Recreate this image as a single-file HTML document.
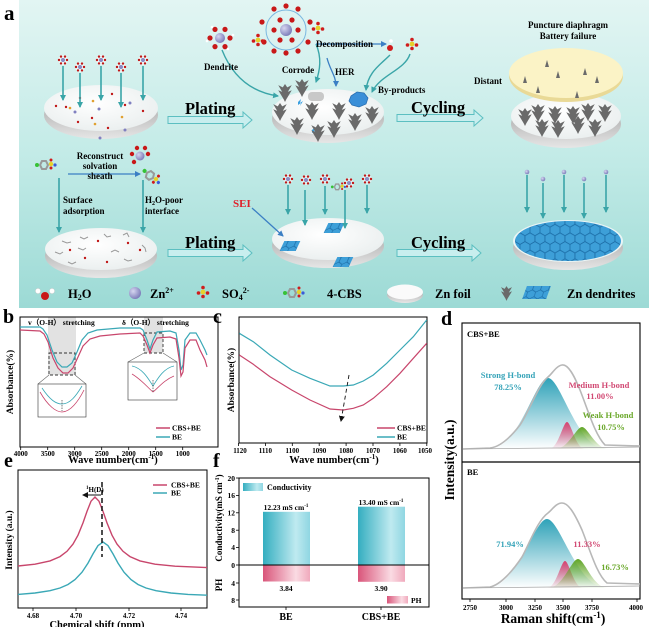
<!DOCTYPE html>
<html><head><meta charset="utf-8"><style>
html,body{margin:0;padding:0;background:#fff;}
svg{display:block;font-family:"Liberation Serif",serif;font-weight:bold;}
</style></head><body>
<svg width="650" height="627" viewBox="0 0 650 627" xmlns="http://www.w3.org/2000/svg">
<defs>
<linearGradient id="bg" x1="0" y1="0" x2="0" y2="1">
<stop offset="0" stop-color="#e2f5f3"/><stop offset="0.5" stop-color="#c3ebe7"/><stop offset="1" stop-color="#9cdad5"/></linearGradient>
<linearGradient id="edge" x1="0" y1="0" x2="0" y2="1"><stop offset="0" stop-color="#9a9a9a"/><stop offset="1" stop-color="#e6e6e6"/></linearGradient>
<radialGradient id="disc" cx="0.45" cy="0.4" r="0.7"><stop offset="0" stop-color="#ffffff"/><stop offset="1" stop-color="#e8eded"/></radialGradient>
<radialGradient id="zn" cx="0.35" cy="0.35" r="0.7"><stop offset="0" stop-color="#d6d6f0"/><stop offset="1" stop-color="#7a7ab8"/></radialGradient>
<pattern id="hex" width="8" height="13.8" patternUnits="userSpaceOnUse" patternTransform="scale(1.25)">
<g fill="#3d9fd8" stroke="#1b6ca6" stroke-width="0.6">
<polygon points="4,0 8,2.3 8,6.9 4,9.2 0,6.9 0,2.3"/>
<polygon points="0,6.9 4,9.2 4,13.8 0,16.1 -4,13.8 -4,9.2"/>
<polygon points="8,6.9 12,9.2 12,13.8 8,16.1 4,13.8 4,9.2"/>
<polygon points="0,-6.9 4,-4.6 4,0 0,2.3 -4,0 -4,-4.6"/>
<polygon points="8,-6.9 12,-4.6 12,0 8,2.3 4,0 4,-4.6"/>
</g></pattern>
<pattern id="hexs" width="8" height="13.8" patternUnits="userSpaceOnUse">
<g fill="#3d9fd8" stroke="#1b6ca6" stroke-width="0.6">
<polygon points="4,0 8,2.3 8,6.9 4,9.2 0,6.9 0,2.3"/>
<polygon points="0,6.9 4,9.2 4,13.8 0,16.1 -4,13.8 -4,9.2"/>
<polygon points="8,6.9 12,9.2 12,13.8 8,16.1 4,13.8 4,9.2"/>
<polygon points="0,-6.9 4,-4.6 4,0 0,2.3 -4,0 -4,-4.6"/>
<polygon points="8,-6.9 12,-4.6 12,0 8,2.3 4,0 4,-4.6"/>
</g></pattern>
<linearGradient id="gb" x1="0" y1="0" x2="0" y2="1"><stop offset="0" stop-color="#2fa2b8"/><stop offset="1" stop-color="#2fa2b8" stop-opacity="0"/></linearGradient>
<linearGradient id="gr" x1="0" y1="0" x2="0" y2="1"><stop offset="0" stop-color="#d8426f"/><stop offset="1" stop-color="#d8426f" stop-opacity="0.05"/></linearGradient>
<linearGradient id="gg" x1="0" y1="0" x2="0" y2="1"><stop offset="0" stop-color="#5fa524"/><stop offset="1" stop-color="#5fa524" stop-opacity="0.05"/></linearGradient>
<linearGradient id="cb" x1="0" y1="0" x2="1" y2="0"><stop offset="0" stop-color="#34aec0"/><stop offset="0.7" stop-color="#bfeaf0"/><stop offset="1" stop-color="#8fd6e2"/></linearGradient>
<linearGradient id="pb" x1="0" y1="0" x2="1" y2="0"><stop offset="0" stop-color="#d9557a"/><stop offset="0.7" stop-color="#fadbe3"/><stop offset="1" stop-color="#f0a9bc"/></linearGradient>
<marker id="ah" markerWidth="6" markerHeight="6" refX="5" refY="3" orient="auto" markerUnits="userSpaceOnUse"><path d="M0,0 L6,3 L0,6 Z" fill="#3aa5a8"/></marker>
<marker id="ahb" markerWidth="6" markerHeight="6" refX="5" refY="3" orient="auto" markerUnits="userSpaceOnUse"><path d="M0,0 L6,3 L0,6 Z" fill="#3b7fc4"/></marker>
<marker id="ahk" markerWidth="6" markerHeight="6" refX="5" refY="3" orient="auto" markerUnits="userSpaceOnUse"><path d="M0,0 L6,3 L0,6 Z" fill="#111"/></marker>
<symbol id="dd" viewBox="-6 0 12 16" overflow="visible"><path d="M0,0 L-2,3 L-6,1 L-2.5,7 L-6,5.5 L-1.2,13.5 L0,16 L1.2,13.5 L6,5.5 L2.5,7 L6,1 L2,3 Z" fill="#6a6a6a"/></symbol>
<g id="cl"><circle r="5" fill="#fff" fill-opacity="0.5"/><circle r="2" fill="#8a8ac4"/><g fill="#c01818"><circle cx="4" cy="0" r="1.2"/><circle cx="-4" cy="0" r="1.2"/><circle cx="2" cy="3.4" r="1.2"/><circle cx="-2" cy="3.4" r="1.2"/><circle cx="2" cy="-3.4" r="1.2"/><circle cx="-2" cy="-3.4" r="1.2"/></g></g>
<g id="so4"><circle r="2.4" fill="#e6d22a"/><g fill="#d01c1c"><circle cx="0" cy="-4.5" r="1.8"/><circle cx="4.5" cy="1" r="1.8"/><circle cx="-4.5" cy="1" r="1.8"/><circle cx="0" cy="4.5" r="1.8"/></g></g>
<g id="cbs"><circle cx="-11" cy="0" r="2" fill="#36c236"/><polygon points="-6,-4 -2,-4 0,0 -2,4 -6,4 -8,0" fill="none" stroke="#999" stroke-width="2"/><circle cx="3" cy="-1" r="2.2" fill="#e6d22a"/><circle cx="3" cy="-5" r="1.5" fill="#d01c1c"/><circle cx="3" cy="3" r="1.5" fill="#d01c1c"/><circle cx="7" cy="0" r="1.6" fill="#3a5ad8"/></g>
<g id="patch"><rect x="-8" y="-5" width="16" height="10" fill="url(#hexs)" transform="skewX(-25)"/></g>
</defs>

<!-- ===== Panel a ===== -->
<rect x="19" y="0" width="630" height="308" fill="url(#bg)"/>
<text x="4" y="20" font-size="21">a</text>

<!-- top-left disc -->
<ellipse cx="101" cy="115" rx="57" ry="24" fill="url(#edge)"/>
<ellipse cx="101" cy="108" rx="57" ry="23" fill="url(#disc)"/>
<g fill="#c01818"><circle cx="80" cy="98" r="1.2"/><circle cx="112" cy="94" r="1.2"/><circle cx="66" cy="107" r="1.2"/><circle cx="92" cy="118" r="1.2"/><circle cx="125" cy="105" r="1.2"/><circle cx="143" cy="111" r="1.2"/><circle cx="78" cy="122" r="1.2"/><circle cx="108" cy="128" r="1.2"/><circle cx="56" cy="106" r="1.2"/></g>
<g fill="#8080c0"><circle cx="99" cy="109" r="1.5"/><circle cx="130" cy="103" r="1.5"/><circle cx="75" cy="112" r="1.5"/><circle cx="100" cy="138" r="1.5"/><circle cx="125" cy="130" r="1.5"/></g>
<g fill="#e0a030"><circle cx="70" cy="108" r="1.3"/><circle cx="93" cy="101" r="1.3"/><circle cx="95" cy="124" r="1.3"/><circle cx="122" cy="117" r="1.3"/></g>
<g stroke="#3aa5a8" stroke-width="1.6" marker-end="url(#ah)">
<line x1="63" y1="66" x2="63" y2="100"/><line x1="80" y1="73" x2="80" y2="107"/><line x1="101" y1="66" x2="101" y2="100"/><line x1="121" y1="73" x2="121" y2="107"/><line x1="143" y1="66" x2="143" y2="100"/></g>
<use href="#cl" x="63" y="60"/><use href="#cl" x="80" y="67"/><use href="#cl" x="101" y="60"/><use href="#cl" x="121" y="67"/><use href="#cl" x="143" y="60"/>

<!-- big arrows -->
<g fill="#c8eeee" stroke="#5cbfc1" stroke-width="1">
<path d="M168,116.5 L243,116.5 L243,112 L252,120 L243,128 L243,123.5 L168,123.5 Z"/>
<path d="M397,114.5 L474,114.5 L474,110 L483,118 L474,126 L474,121.5 L397,121.5 Z"/>
<path d="M168,249.5 L243,249.5 L243,245 L252,253 L243,261 L243,256.5 L168,256.5 Z"/>
<path d="M397,249.5 L472,249.5 L472,245 L481,253 L472,261 L472,256.5 L397,256.5 Z"/>
</g>
<text x="185" y="114" font-size="16.5">Plating</text>
<text x="411" y="113" font-size="16.5">Cycling</text>
<text x="185" y="248" font-size="16.5">Plating</text>
<text x="411" y="248" font-size="16.5">Cycling</text>

<!-- top-middle disc -->
<ellipse cx="328" cy="119" rx="56" ry="24" fill="url(#edge)"/>
<ellipse cx="328" cy="112" rx="56" ry="23" fill="url(#disc)"/>
<rect x="308" y="92" width="16" height="9" rx="4" fill="#c8c8c8"/>
<path d="M351,96 l6,-4 l7,1 l4,5 l-2,6 l-7,3 l-7,-2 l-3,-4 Z" fill="#3a8fd8" stroke="#2a6fb0" stroke-width="0.8"/>
<g fill="#3aa0e0"><path d="M298,102 l3,-3 l-1,4 l3,-2 l-3,5 l1,-3 l-3,2 Z"/><path d="M336,110 l3,-3 l-1,4 l3,-2 l-3,5 l1,-3 l-3,2 Z"/><path d="M312,130 l3,-3 l-1,4 l3,-2 l-3,5 l1,-3 l-3,2 Z"/></g>
<g>
<use href="#dd" x="278" y="84" width="14" height="18"/><use href="#dd" x="295" y="79" width="14" height="18"/>
<use href="#dd" x="273" y="103" width="14" height="18"/><use href="#dd" x="305" y="102" width="14" height="18"/>
<use href="#dd" x="290" y="117" width="14" height="18"/><use href="#dd" x="332" y="102" width="14" height="18"/>
<use href="#dd" x="348" y="113" width="14" height="18"/><use href="#dd" x="327" y="120" width="14" height="18"/>
<use href="#dd" x="311" y="124" width="14" height="18"/><use href="#dd" x="365" y="106" width="14" height="18"/>
</g>
<!-- sheath and molecules -->
<g transform="translate(220,38)"><circle r="5" fill="url(#zn)"/><g fill="#c81818"><circle cx="10" cy="0" r="2.6"/><circle cx="-10" cy="0" r="2.6"/><circle cx="5" cy="8.6" r="2.6"/><circle cx="-5" cy="8.6" r="2.6"/><circle cx="5" cy="-8.6" r="2.6"/><circle cx="-5" cy="-8.6" r="2.6"/></g><g fill="#fff"><circle cx="13" cy="-3" r="1.3"/><circle cx="-13" cy="3" r="1.3"/><circle cx="8" cy="11" r="1.3"/><circle cx="-8" cy="-11" r="1.3"/></g></g>
<g transform="translate(286,30)"><circle r="20" fill="none" stroke="#7ab8e0" stroke-width="1"/><circle r="6" fill="url(#zn)"/>
<g fill="#c81818"><circle cx="12" cy="0" r="2.6"/><circle cx="-12" cy="0" r="2.6"/><circle cx="6" cy="10" r="2.6"/><circle cx="-6" cy="10" r="2.6"/><circle cx="6" cy="-10" r="2.6"/><circle cx="-6" cy="-10" r="2.6"/>
<circle cx="24" cy="-8" r="2.6"/><circle cx="-24" cy="-8" r="2.6"/><circle cx="22" cy="12" r="2.6"/><circle cx="-22" cy="12" r="2.6"/><circle cx="0" cy="-24" r="2.6"/><circle cx="12" cy="-21" r="2.6"/><circle cx="-12" cy="-21" r="2.6"/><circle cx="0" cy="23" r="2.6"/><circle cx="12" cy="21" r="2.6"/><circle cx="-12" cy="21" r="2.6"/></g></g>
<use href="#so4" x="258" y="40"/><use href="#so4" x="318" y="28"/><use href="#so4" x="412" y="44"/>
<circle cx="390" cy="48" r="3" fill="#d01c1c"/><circle cx="391" cy="41" r="1.8" fill="#fff"/>
<g fill="none" stroke="#3aa5a8" stroke-width="1.4" marker-end="url(#ah)">
<path d="M222,50 C232,75 250,92 278,96"/>
<path d="M316,44 C322,58 320,70 316,82"/>
<path d="M390,55 C380,65 368,72 366,90"/>
<path d="M410,54 C405,70 380,75 372,92"/>
</g>
<g fill="none" stroke="#3b7fc4" stroke-width="1.3">
<line x1="316" y1="44" x2="386" y2="44" marker-end="url(#ahb)"/>
<path d="M327,58 C330,70 336,76 336,86" marker-end="url(#ahb)"/>
</g>
<text x="221" y="70" font-size="9" text-anchor="middle">Dendrite</text>
<text x="298" y="73" font-size="9" text-anchor="middle">Corrode</text>
<text x="316" y="47" font-size="9">Decomposition</text>
<text x="335" y="75" font-size="9">HER</text>
<text x="378" y="93" font-size="9">By-products</text>

<!-- top-right discs -->
<ellipse cx="566" cy="124" rx="55" ry="24" fill="url(#edge)"/>
<ellipse cx="566" cy="116" rx="55" ry="23" fill="url(#disc)"/>
<g>
<use href="#dd" x="518" y="108" width="14" height="18"/><use href="#dd" x="531" y="104" width="14" height="18"/>
<use href="#dd" x="548" y="106" width="14" height="18"/><use href="#dd" x="566" y="106" width="14" height="18"/>
<use href="#dd" x="581" y="103" width="14" height="18"/><use href="#dd" x="598" y="104" width="14" height="18"/>
<use href="#dd" x="535" y="119" width="14" height="18"/><use href="#dd" x="551" y="120" width="14" height="18"/>
<use href="#dd" x="571" y="116" width="14" height="18"/><use href="#dd" x="588" y="119" width="14" height="18"/>
</g>
<ellipse cx="566" cy="76" rx="57" ry="26" fill="#e9d996"/>
<ellipse cx="566" cy="73" rx="57" ry="25" fill="#fbf3c6"/>
<g fill="#6a6a6a"><path d="M547,60 l2,7 l-4,0 Z"/><path d="M525,76 l2,7 l-4,0 Z"/><path d="M558,71 l2,7 l-4,0 Z"/><path d="M538,86 l2,7 l-4,0 Z"/><path d="M585,68 l2,7 l-4,0 Z"/><path d="M597,76 l2,7 l-4,0 Z"/><path d="M577,91 l2,7 l-4,0 Z"/></g>
<text x="568" y="28" font-size="9" text-anchor="middle">Puncture diaphragm</text>
<text x="568" y="39" font-size="9" text-anchor="middle">Battery failure</text>
<text x="474" y="84" font-size="9">Distant</text>

<!-- bottom-left -->
<ellipse cx="101" cy="256" rx="56" ry="22" fill="url(#edge)"/>
<ellipse cx="101" cy="249" rx="56" ry="21" fill="url(#disc)"/>
<g fill="#c01818"><circle cx="70" cy="250" r="1.2"/><circle cx="98" cy="241" r="1.2"/><circle cx="128" cy="243" r="1.2"/><circle cx="107" cy="262" r="1.2"/><circle cx="85" cy="258" r="1.2"/><circle cx="140" cy="250" r="1.2"/></g>
<g stroke="#999" stroke-width="1" fill="none"><path d="M62,241 l5,2 l4,-1"/><path d="M80,237 l4,2 l4,-2"/><path d="M104,234 l3,3 l4,-1"/><path d="M123,235 l4,-2 l2,4"/><path d="M55,252 l5,2 l3,-2"/><path d="M78,248 l5,2 l3,-2"/><path d="M111,252 l4,-2 l4,2"/><path d="M124,259 l4,2 l4,-1"/><path d="M68,262 l4,2 l4,-2"/><path d="M142,245 l3,3 l1,4"/></g>
<use href="#cbs" x="48" y="165"/>
<g transform="translate(140,156)"><circle r="4.5" fill="url(#zn)"/><g fill="#c81818"><circle cx="8" cy="-2" r="2.2"/><circle cx="-8" cy="-2" r="2.2"/><circle cx="-3" cy="-8" r="2.2"/><circle cx="5" cy="-8" r="2.2"/><circle cx="-6" cy="6" r="2.2"/></g></g>
<use href="#cbs" x="153" y="178" transform="rotate(40 153 178)"/>
<line x1="68" y1="174" x2="140" y2="174" stroke="#3b7fc4" stroke-width="1.3" marker-end="url(#ahb)"/>
<g stroke="#3aa5a8" stroke-width="1.6" marker-end="url(#ah)">
<line x1="59" y1="178" x2="59" y2="232"/><line x1="143" y1="180" x2="143" y2="232"/></g>
<text x="100" y="159" font-size="9" text-anchor="middle">Reconstruct</text>
<text x="100" y="169" font-size="9" text-anchor="middle">solvation</text>
<text x="100" y="179" font-size="9" text-anchor="middle">sheath</text>
<text x="63" y="203" font-size="9">Surface</text>
<text x="63" y="214" font-size="9">adsorption</text>
<text x="145" y="203" font-size="9">H<tspan font-size="6" dy="2">2</tspan><tspan dy="-2">O-poor</tspan></text>
<text x="145" y="214" font-size="9">interface</text>

<!-- bottom-middle -->
<ellipse cx="328" cy="246" rx="56" ry="22" fill="url(#edge)"/>
<ellipse cx="328" cy="239" rx="56" ry="21" fill="url(#disc)"/>
<use href="#patch" x="290" y="246"/><use href="#patch" x="334" y="228"/><use href="#patch" x="343" y="262"/>
<text x="233" y="207" font-size="11" fill="#e0202a">SEI</text>
<line x1="252" y1="208" x2="283" y2="236" stroke="#3b7fc4" stroke-width="1.3" marker-end="url(#ahb)"/>
<g stroke="#3aa5a8" stroke-width="1.6" marker-end="url(#ah)">
<line x1="288" y1="185" x2="288" y2="214"/><line x1="305" y1="190" x2="305" y2="225"/><line x1="325" y1="186" x2="325" y2="214"/><line x1="345" y1="190" x2="345" y2="228"/><line x1="367" y1="185" x2="367" y2="213"/></g>
<use href="#cl" x="288" y="179"/><use href="#cl" x="306" y="180"/><use href="#cl" x="325" y="179"/><use href="#cl" x="349" y="183"/><use href="#cl" x="367" y="179"/>
<use href="#cbs" x="340" y="187" transform="scale(0.7) translate(145.7 80)"/>

<!-- bottom-right hex disc -->
<ellipse cx="568" cy="248" rx="55" ry="22" fill="url(#edge)"/>
<ellipse cx="568" cy="241" rx="55" ry="21" fill="#eaf5f5"/>
<ellipse cx="568" cy="241" rx="53" ry="20" fill="url(#hex)"/>
<g stroke="#3aa5a8" stroke-width="1.6" marker-end="url(#ah)">
<line x1="527" y1="175" x2="527" y2="212"/><line x1="543" y1="183" x2="543" y2="218"/><line x1="564" y1="175" x2="564" y2="212"/><line x1="584" y1="183" x2="584" y2="218"/><line x1="606" y1="175" x2="606" y2="212"/></g>
<g fill="url(#zn)"><circle cx="527" cy="172" r="2.3"/><circle cx="543" cy="179" r="2.3"/><circle cx="564" cy="172" r="2.3"/><circle cx="584" cy="179" r="2.3"/><circle cx="606" cy="172" r="2.3"/></g>

<!-- legend row -->
<circle cx="45" cy="296" r="4" fill="#c81818"/><circle cx="38" cy="291" r="2.6" fill="#fff" stroke="#ccc" stroke-width="0.5"/><circle cx="52" cy="291" r="2.6" fill="#fff" stroke="#ccc" stroke-width="0.5"/>
<text x="68" y="298" font-size="12.5">H<tspan font-size="8" dy="2">2</tspan><tspan dy="-2">O</tspan></text>
<circle cx="135" cy="293" r="6" fill="url(#zn)"/>
<text x="150" y="298" font-size="12.5">Zn<tspan font-size="8" dy="-5">2+</tspan></text>
<use href="#so4" x="203" y="292"/>
<text x="222" y="298" font-size="12.5">SO<tspan font-size="8" dy="2">4</tspan><tspan font-size="8" dy="-7">2-</tspan></text>
<use href="#cbs" x="296" y="293"/>
<text x="327" y="298" font-size="12.5">4-CBS</text>
<ellipse cx="405" cy="295" rx="18" ry="8" fill="url(#edge)"/><ellipse cx="405" cy="292" rx="18" ry="7.5" fill="#fafafa"/>
<text x="435" y="298" font-size="12.5">Zn foil</text>
<use href="#dd" x="501" y="286" width="11" height="15"/>
<rect x="525" y="286" width="24" height="13" fill="url(#hexs)" transform="skewX(-20) translate(106 0)"/>
<text x="567" y="298" font-size="12.5">Zn dendrites</text>

<!-- ===== Panel b ===== -->
<text x="3" y="323" font-size="20">b</text>
<rect x="48" y="317" width="28" height="58" fill="#e2e2e2"/>
<rect x="144" y="317" width="19" height="36" fill="#e2e2e2"/>
<rect x="20" y="317" width="198" height="130" fill="none" stroke="#000" stroke-width="1"/>
<g fill="none" stroke-dasharray="3,2" stroke="#333" stroke-width="0.9">
<rect x="49" y="353" width="26" height="22"/><rect x="144" y="333" width="19" height="20"/></g>
<g stroke="#666" stroke-width="0.6"><line x1="49" y1="375" x2="38" y2="384"/><line x1="75" y1="375" x2="86" y2="384"/><line x1="144" y1="353" x2="128" y2="362"/><line x1="163" y1="353" x2="177" y2="362"/></g>
<polyline fill="none" stroke="#3aa8b6" stroke-width="1.2" points="20,327 40,327 43,329 47,335 52,350 57,362 62,367 67,367 72,363 77,352 82,340 88,333 97,330 120,328 140,328 143,330 147,340 150,349 153,340 157,332 170,331 176,333 179,350 181,370 183,365 185,340 190,333 196,333 200,340 205,350 207,355"/>
<polyline fill="none" stroke="#c8466c" stroke-width="1.2" points="20,330 40,331 44,334 48,342 53,358 58,368 63,373 68,373 73,368 78,357 83,346 90,339 100,336 120,334 140,333 143,336 147,345 150,353 153,345 157,338 170,337 176,339 179,358 181,376 183,372 185,348 190,340 196,340 200,350 205,360 207,367"/>
<rect x="38" y="384" width="48" height="33" fill="#fff" stroke="#333" stroke-width="0.6"/>
<path d="M42,388 C50,400 56,404 62,404 C70,404 76,396 82,386" fill="none" stroke="#3aa8b6" stroke-width="0.8"/>
<path d="M40,392 C48,406 56,412 62,412 C70,412 78,402 84,390" fill="none" stroke="#c8466c" stroke-width="0.8"/>
<line x1="62" y1="400" x2="62" y2="411" stroke="#222" stroke-width="0.6" stroke-dasharray="1.5,1"/>
<rect x="128" y="362" width="49" height="38" fill="#fff" stroke="#333" stroke-width="0.6"/>
<path d="M132,366 C142,368 148,378 153,386 C158,378 164,368 174,366" fill="none" stroke="#3aa8b6" stroke-width="0.8"/>
<path d="M132,374 C142,380 148,388 153,392 C158,388 164,380 174,376" fill="none" stroke="#c8466c" stroke-width="0.8"/>
<line x1="153" y1="380" x2="153" y2="392" stroke="#222" stroke-width="0.6" stroke-dasharray="1.5,1"/>
<text x="28" y="325" font-size="7.5">v（O-H） stretching</text>
<text x="122" y="325" font-size="7.5">δ（O-H） stretching</text>
<line x1="156" y1="428" x2="170" y2="428" stroke="#c8466c" stroke-width="1.5"/><text x="172" y="430.5" font-size="7.5">CBS+BE</text>
<line x1="156" y1="437" x2="170" y2="437" stroke="#3aa8b6" stroke-width="1.5"/><text x="172" y="439.5" font-size="7.5">BE</text>
<g stroke="#000" stroke-width="0.8"><line x1="20.7" y1="447" x2="20.7" y2="450"/><line x1="47.7" y1="447" x2="47.7" y2="450"/><line x1="74.7" y1="447" x2="74.7" y2="450"/><line x1="101.7" y1="447" x2="101.7" y2="450"/><line x1="128.7" y1="447" x2="128.7" y2="450"/><line x1="155.7" y1="447" x2="155.7" y2="450"/><line x1="182.7" y1="447" x2="182.7" y2="450"/></g>
<g font-size="7" text-anchor="middle"><text x="20.7" y="456">4000</text><text x="47.7" y="456">3500</text><text x="74.7" y="456">3000</text><text x="101.7" y="456">2500</text><text x="128.7" y="456">2000</text><text x="155.7" y="456">1500</text><text x="182.7" y="456">1000</text></g>
<text x="113" y="463" font-size="10.5" text-anchor="middle">Wave number(cm<tspan font-size="7" dy="-4">-1</tspan><tspan dy="4">)</tspan></text>
<text transform="translate(13,382) rotate(-90)" font-size="9.5" text-anchor="middle">Absorbance(%)</text>

<!-- ===== Panel c ===== -->
<text x="213" y="323" font-size="20">c</text>
<rect x="239" y="317" width="188" height="126" fill="none" stroke="#000" stroke-width="1"/>
<polyline fill="none" stroke="#3aa8b6" stroke-width="1.2" points="239.3,333.3 253.3,341.7 270,355 291.7,370 310,378.3 330,386 343.3,386 353.3,385 363.3,381 373.3,375 386.7,363.3 400,350 413.3,336.7 426.7,320"/>
<polyline fill="none" stroke="#c8466c" stroke-width="1.2" points="239.3,355 253.3,364.3 270,376.7 291.7,390 310,400 330,409 343.3,410 353.3,408.3 363.3,405 373.3,398.3 386.7,386.7 400,373.3 413.3,358.3 426.7,343.3"/>
<line x1="349" y1="375" x2="341" y2="421" stroke="#111" stroke-width="0.9" stroke-dasharray="4,3" marker-end="url(#ahk)"/>
<line x1="377" y1="428" x2="395" y2="428" stroke="#c8466c" stroke-width="1.5"/><text x="397" y="430.5" font-size="7.5">CBS+BE</text>
<line x1="377" y1="437" x2="395" y2="437" stroke="#3aa8b6" stroke-width="1.5"/><text x="397" y="439.5" font-size="7.5">BE</text>
<g stroke="#000" stroke-width="0.8"><line x1="238.5" y1="443" x2="238.5" y2="446"/><line x1="265.4" y1="443" x2="265.4" y2="446"/><line x1="292.3" y1="443" x2="292.3" y2="446"/><line x1="319.2" y1="443" x2="319.2" y2="446"/><line x1="346.1" y1="443" x2="346.1" y2="446"/><line x1="373" y1="443" x2="373" y2="446"/><line x1="399.9" y1="443" x2="399.9" y2="446"/><line x1="426.8" y1="443" x2="426.8" y2="446"/></g>
<g font-size="7" text-anchor="middle"><text x="240" y="453">1120</text><text x="265.4" y="453">1110</text><text x="292.3" y="453">1100</text><text x="319.2" y="453">1090</text><text x="346.1" y="453">1080</text><text x="373" y="453">1070</text><text x="399.9" y="453">1060</text><text x="425" y="453">1050</text></g>
<text x="334" y="463" font-size="10.5" text-anchor="middle">Wave number(cm<tspan font-size="7" dy="-4">-1</tspan><tspan dy="4">)</tspan></text>
<text transform="translate(234,380) rotate(-90)" font-size="9.5" text-anchor="middle">Absorbance(%)</text>

<!-- ===== Panel d ===== -->
<text x="441" y="325" font-size="20">d</text>
<rect x="462" y="323" width="178" height="276" fill="none" stroke="#000" stroke-width="1.1"/>
<line x1="462" y1="462" x2="640" y2="462" stroke="#000" stroke-width="1.3"/>
<path d="M489.5,449 C518.75,449 535.3,378 548,378 C560.7,378 577.25,449 606.5,449 Z" fill="url(#gb)"/>
<path d="M549,449 C558,449 563.1,422 567,422 C570.9,422 576,449 585,449 Z" fill="url(#gr)"/>
<path d="M555,449 C568.5,449 576.15,427 582,427 C587.85,427 595.5,449 609,449 Z" fill="url(#gg)"/>
<path d="M463,449 L490,448 C500,447 510,438 520,425 C530,410 538,385 548,377 C552,374 556,366 562,365 C568,364 574,375 580,390 C588,410 595,435 605,445 L640,446" fill="none" stroke="#b8b8b8" stroke-width="1.6"/>
<line x1="463" y1="449" x2="640" y2="447" stroke="#aaa" stroke-width="0.8"/>
<path d="M487,588 C517,588 534,519 547,519 C560,519 577,588 607,588 Z" fill="url(#gb)"/>
<path d="M547,588 C556,588 561.1,561 565,561 C568.9,561 574,588 583,588 Z" fill="url(#gr)"/>
<path d="M548,588 C563,588 571.5,559 578,559 C584.5,559 593,588 608,588 Z" fill="url(#gg)"/>
<path d="M463,588 L490,587 C500,585 512,572 522,557 C530,542 538,520 548,513 C552,510 556,503 562,503 C568,503 574,512 582,530 C590,550 597,575 607,583 L640,584" fill="none" stroke="#b8b8b8" stroke-width="1.6"/>
<line x1="463" y1="588" x2="640" y2="586" stroke="#aaa" stroke-width="0.8"/>
<text x="467" y="337" font-size="8.5">CBS+BE</text>
<text x="467" y="475" font-size="8.5">BE</text>
<g font-size="8.5" text-anchor="middle">
<text x="508" y="378" fill="#35a3b8">Strong H-bond</text><text x="508" y="390" fill="#35a3b8">78.25%</text>
<text x="599" y="388" fill="#d24a74">Medium H-bond</text><text x="600" y="399" fill="#d24a74">11.00%</text>
<text x="608" y="418" fill="#6aa82a">Weak H-bond</text><text x="611" y="430" fill="#6aa82a">10.75%</text>
<text x="510" y="547" fill="#35a3b8">71.94%</text><text x="587" y="547" fill="#d24a74">11.33%</text><text x="615" y="570" fill="#6aa82a">16.73%</text>
</g>
<g stroke="#000" stroke-width="0.8"><line x1="470" y1="599" x2="470" y2="602"/><line x1="506" y1="599" x2="506" y2="602"/><line x1="535" y1="599" x2="535" y2="602"/><line x1="563" y1="599" x2="563" y2="602"/><line x1="592" y1="599" x2="592" y2="602"/><line x1="637" y1="599" x2="637" y2="602"/></g>
<g font-size="7" text-anchor="middle"><text x="470" y="610">2750</text><text x="506" y="610">3000</text><text x="535" y="610">3250</text><text x="563" y="610">3500</text><text x="592" y="610">3750</text><text x="636" y="610">4000</text></g>
<text x="553" y="623" font-size="13.5" text-anchor="middle">Raman shift(cm<tspan font-size="9" dy="-5">-1</tspan><tspan dy="5">)</tspan></text>
<text transform="translate(454,460) rotate(-90)" font-size="13.5" text-anchor="middle">Intensity(a.u.)</text>

<!-- ===== Panel e ===== -->
<text x="4" y="467" font-size="20">e</text>
<rect x="18" y="470" width="189" height="138" fill="none" stroke="#000" stroke-width="1"/>
<polyline fill="none" stroke="#c8466c" stroke-width="1.4" points="18,566 35,564.2 50,560.9 60,556.6 67,551.3 73,544.1 78,535.2 83,522.9 87,511.4 91,501.2 95,497 99,501.2 103,511.4 107,522.9 112,535.2 117,544.1 123,551.3 130,556.6 140,560.9 155,564.2 175,566.2 207,567.6"/>
<polyline fill="none" stroke="#3aa8b6" stroke-width="1.4" points="18,594.4 35,593 50,590.7 60,588 68,584.5 75,579.6 82,572.2 88,563.1 93,553.9 98,545.6 103,542 108,545.6 113,553.9 118,563.1 124,572.2 131,579.6 138,584.5 146,588 156,590.7 171,593 188,594.4 207,595.2"/>
<line x1="102" y1="482" x2="102" y2="557" stroke="#222" stroke-width="1.6" stroke-dasharray="5,3"/>
<line x1="101" y1="495" x2="83" y2="495" stroke="#111" stroke-width="1" marker-end="url(#ahk)"/>
<text x="86" y="492" font-size="7"><tspan font-size="5" dy="-3">1</tspan><tspan dy="3">H(D)</tspan></text>
<line x1="153" y1="485" x2="167" y2="485" stroke="#c8466c" stroke-width="1.5"/><text x="171" y="487.5" font-size="7.5">CBS+BE</text>
<line x1="153" y1="493" x2="167" y2="493" stroke="#3aa8b6" stroke-width="1.5"/><text x="171" y="495.5" font-size="7.5">BE</text>
<g stroke="#000" stroke-width="0.8"><line x1="33" y1="608" x2="33" y2="611"/><line x1="76" y1="608" x2="76" y2="611"/><line x1="129" y1="608" x2="129" y2="611"/><line x1="181" y1="608" x2="181" y2="611"/></g>
<g font-size="7" text-anchor="middle"><text x="33" y="618">4.68</text><text x="76" y="618">4.70</text><text x="129" y="618">4.72</text><text x="181" y="618">4.74</text></g>
<text x="97" y="628" font-size="10.5" text-anchor="middle">Chemical shift (ppm)</text>
<text transform="translate(12,540) rotate(-90)" font-size="9.5" text-anchor="middle">Intensity (a.u.)</text>

<!-- ===== Panel f ===== -->
<text x="213" y="467" font-size="20">f</text>
<rect x="263" y="511.8" width="47" height="53.2" fill="url(#cb)"/>
<rect x="358" y="506.7" width="47" height="58.3" fill="url(#cb)"/>
<rect x="263" y="565" width="47" height="16.5" fill="url(#pb)"/>
<rect x="358" y="565" width="47" height="16.8" fill="url(#pb)"/>
<rect x="239" y="478" width="190" height="129" fill="none" stroke="#000" stroke-width="1"/>
<line x1="239" y1="565" x2="429" y2="565" stroke="#000" stroke-width="1"/>
<g stroke="#000" stroke-width="0.8"><line x1="236" y1="478" x2="239" y2="478"/><line x1="236" y1="495.4" x2="239" y2="495.4"/><line x1="236" y1="512.8" x2="239" y2="512.8"/><line x1="236" y1="530.2" x2="239" y2="530.2"/><line x1="236" y1="547.6" x2="239" y2="547.6"/><line x1="236" y1="565" x2="239" y2="565"/><line x1="236" y1="583" x2="239" y2="583"/><line x1="236" y1="600" x2="239" y2="600"/><line x1="286" y1="607" x2="286" y2="610"/><line x1="381" y1="607" x2="381" y2="610"/></g>
<g font-size="7.5" text-anchor="end"><text x="235" y="481">20</text><text x="235" y="498">16</text><text x="235" y="515.5">12</text><text x="235" y="533">8</text><text x="235" y="550">4</text><text x="235" y="568">0</text><text x="235" y="586">4</text><text x="235" y="603">8</text></g>
<rect x="243" y="483" width="20" height="8" fill="url(#cb)"/><text x="267" y="490" font-size="8">Conductivity</text>
<rect x="387" y="596" width="21" height="7.5" fill="url(#pb)"/><text x="411" y="603" font-size="7.5">PH</text>
<g font-size="7.5" text-anchor="middle"><text x="286" y="510">12.23 mS cm<tspan font-size="5" dy="-3">-1</tspan></text><text x="381" y="505">13.40 mS cm<tspan font-size="5" dy="-3">-1</tspan></text><text x="286" y="591">3.84</text><text x="381" y="591">3.90</text></g>
<text x="286" y="620" font-size="10" text-anchor="middle">BE</text>
<text x="381" y="620" font-size="10" text-anchor="middle">CBS+BE</text>
<text transform="translate(222,518) rotate(-90)" font-size="9" text-anchor="middle">Conductivity(mS cm<tspan font-size="6" dy="-3">-1</tspan><tspan dy="3">)</tspan></text>
<text transform="translate(222,585) rotate(-90)" font-size="9" text-anchor="middle">PH</text>
</svg>
</body></html>
